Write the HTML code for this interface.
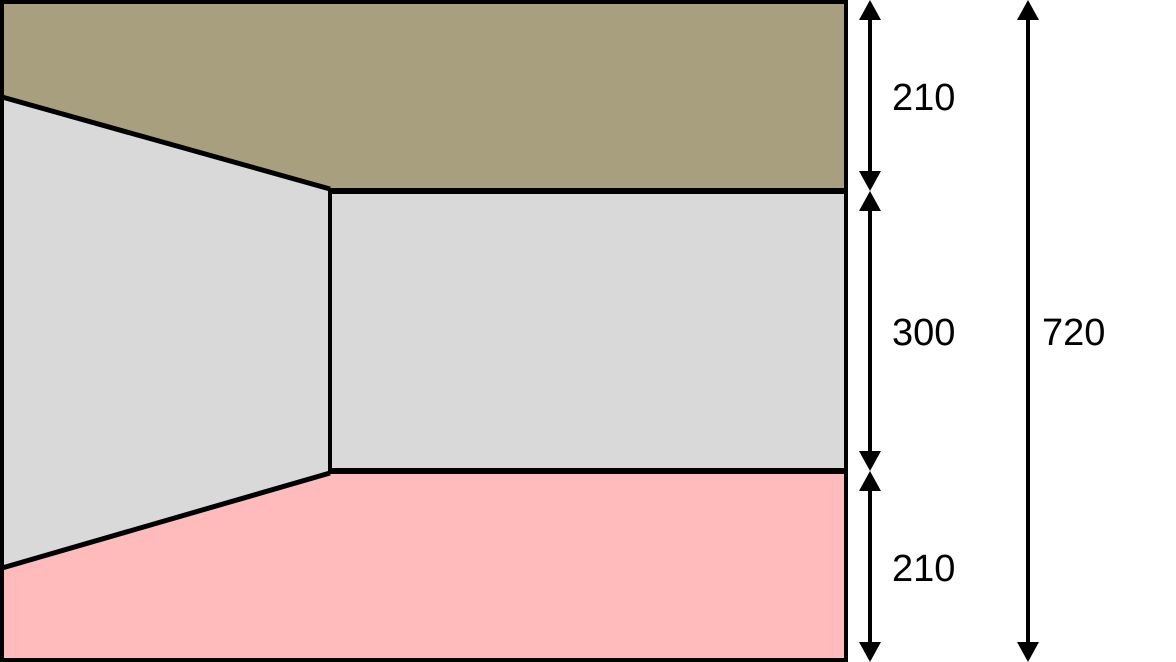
<!DOCTYPE html>
<html><head><meta charset="utf-8"><style>
html,body{margin:0;padding:0;background:#fff;}
svg{display:block;}
text{font-family:"Liberation Sans","DejaVu Sans",sans-serif;font-size:38px;fill:#000;}
</style></head><body>
<svg width="1176" height="662" viewBox="0 0 1176 662">
  <polygon points="2,2 846,2 846,191 330,191 2,98" fill="#a89f7e"/>
  <polygon points="2,98 330,191 330,471 2,568" fill="#d9d9d9"/>
  <rect x="330" y="191" width="516" height="280" fill="#d9d9d9"/>
  <polygon points="2,568 330,471 846,471 846,660 2,660" fill="#ffbabc"/>
  <g stroke="#000" fill="none">
    <rect x="2" y="2" width="844" height="658" stroke-width="4"/>
    <line x1="2" y1="97" x2="330" y2="189" stroke-width="5"/>
    <line x1="2" y1="568" x2="330" y2="473" stroke-width="5"/>
    <line x1="328" y1="191" x2="846" y2="191" stroke-width="6"/>
    <line x1="328" y1="471" x2="846" y2="471" stroke-width="6"/>
    <line x1="330" y1="191" x2="330" y2="471" stroke-width="4"/>
    <line x1="870" y1="10" x2="870" y2="180" stroke-width="4"/>
    <line x1="870" y1="200" x2="870" y2="460" stroke-width="4"/>
    <line x1="870" y1="482" x2="870" y2="652" stroke-width="4"/>
    <line x1="1028" y1="10" x2="1028" y2="652" stroke-width="4"/>
  </g>
  <g fill="#000">
    <polygon points="870,0 859,20 881,20"/>
    <polygon points="870,191 859,171 881,171"/>
    <polygon points="870,191 859,211 881,211"/>
    <polygon points="870,471 859,451 881,451"/>
    <polygon points="870,471 859,491 881,491"/>
    <polygon points="870,662 859,642 881,642"/>
    <polygon points="1028,0 1017,20 1039,20"/>
    <polygon points="1028,662 1017,642 1039,642"/>
  </g>
  <text x="892" y="110">210</text>
  <text x="892" y="345">300</text>
  <text x="892" y="581">210</text>
  <text x="1042" y="345">720</text>
</svg>
</body></html>
